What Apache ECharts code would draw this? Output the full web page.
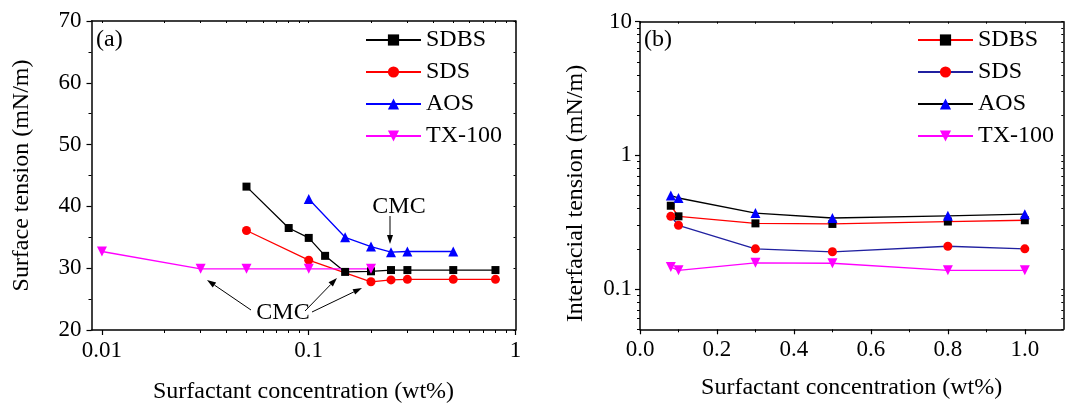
<!DOCTYPE html>
<html><head><meta charset="utf-8">
<script src="https://cdn.jsdelivr.net/npm/echarts@6/dist/echarts.min.js"></script>
<style>html,body{margin:0;padding:0;background:#fff}#c{width:1065px;height:405px}</style>
</head><body><div id="c"></div>
<script>
// ---- data ----
const seriesNames = ['SDBS', 'SDS', 'AOS', 'TX-100'];
// (a) surface tension (mN/m) vs surfactant concentration (wt%)
const sdbsA_x = [0.05, 0.08, 0.1, 0.12, 0.15, 0.2, 0.25, 0.3, 0.5, 0.8];
const sdbsA_y = [43.2, 36.5, 34.9, 32.0, 29.4, 29.5, 29.7, 29.7, 29.7, 29.7];
const sdsA_x = [0.05, 0.1, 0.2, 0.25, 0.3, 0.5, 0.8];
const sdsA_y = [36.1, 31.3, 27.8, 28.1, 28.2, 28.2, 28.2];
const aosA_x = [0.1, 0.15, 0.2, 0.25, 0.3, 0.5];
const aosA_y = [41.2, 35.0, 33.5, 32.6, 32.7, 32.7];
const txA_x = [0.01, 0.03, 0.05, 0.1, 0.2];
const txA_y = [32.7, 29.9, 29.9, 29.9, 29.9];
// (b) interfacial tension (mN/m) vs surfactant concentration (wt%)
const concB = [0.08, 0.1, 0.3, 0.5, 0.8, 1.0];
const sdbsB = [0.42, 0.35, 0.31, 0.307, 0.32, 0.327];
const sdsB = [0.35, 0.30, 0.20, 0.19, 0.209, 0.20];
const aosB = [0.50, 0.48, 0.37, 0.34, 0.353, 0.363];
const txB = [0.146, 0.138, 0.157, 0.156, 0.138, 0.138];
// tick labels
const xTicksA = [0.01, 0.1, 1];
const yTicksA = [20, 30, 40, 50, 60, 70];
const xTicksB = [0, 0.2, 0.4, 0.6, 0.8, 1.0];
const yTicksB = [0.1, 1, 10];

// ---- helpers ----
const FONT = 'Liberation Serif';
const zip = (xs, ys) => xs.map((x, i) => [x, ys[i]]);
const logMinor = (decades) => {
  const out = [];
  decades.forEach(d => { for (let k = 2; k <= 9; k++) out.push(+(d * k).toPrecision(6)); });
  return out;
};
const xMinorA = logMinor([0.01, 0.1]);
const yMinorA = [25, 35, 45, 55, 65];
const xMinorB = [0.1, 0.3, 0.5, 0.7, 0.9];
const yMinorB = logMinor([0.01, 0.1, 1]).filter(v => v >= 0.05);

const lineStyleAx = {color: '#000', width: 1.5};
const nameStyle = {fontFamily: FONT, fontSize: 24, color: '#000'};

function axMain(o) {
  return Object.assign({
    axisLine: {show: true, onZero: false, lineStyle: lineStyleAx},
    axisTick: {show: true, inside: false, length: 5, customValues: o.major, lineStyle: {color: '#000', width: 1.2}},
    axisLabel: {show: true, customValues: o.major, margin: o.margin, formatter: o.fmt, fontFamily: FONT, fontSize: 23, color: '#000'},
    splitLine: {show: false},
    nameLocation: 'middle',
    nameTextStyle: nameStyle
  }, o.base);
}
function axMinor(o) {
  return Object.assign({
    axisLine: {show: false, onZero: false},
    axisTick: {show: true, inside: false, length: 3, customValues: o.minor, lineStyle: {color: '#000', width: 1}},
    axisLabel: {show: false},
    splitLine: {show: false}
  }, o.base);
}
function axMirror(o) {
  return Object.assign({
    axisLine: {show: true, onZero: false, lineStyle: lineStyleAx},
    axisTick: {show: true, inside: true, length: 2, customValues: o.ticks, lineStyle: {color: '#000', width: 1}},
    axisLabel: {show: false},
    splitLine: {show: false}
  }, o.base);
}

const xA = {gridIndex: 0, type: 'log', logBase: 10, min: 0.0089, max: 1};
const yA = {gridIndex: 0, type: 'value', min: 20, max: 70};
const xB = {gridIndex: 1, type: 'value', min: 0, max: 1.1};
const yB = {gridIndex: 1, type: 'log', logBase: 10, min: 0.05, max: 10};

const xAxes = [
  axMain({base: Object.assign({}, xA, {position: 'bottom', name: 'Surfactant concentration (wt%)', nameGap: 50}), major: xTicksA, margin: 9, fmt: v => String(v)}),
  axMinor({base: Object.assign({}, xA, {position: 'bottom'}), minor: xMinorA}),
  axMirror({base: Object.assign({}, xA, {position: 'top'}), ticks: xTicksA.concat(xMinorA)}),
  axMain({base: Object.assign({}, xB, {position: 'bottom', name: 'Surfactant concentration (wt%)', nameGap: 46}), major: xTicksB, margin: 9, fmt: v => v.toFixed(1)}),
  axMinor({base: Object.assign({}, xB, {position: 'bottom'}), minor: xMinorB}),
  axMirror({base: Object.assign({}, xB, {position: 'top'}), ticks: xTicksB.concat(xMinorB)})
];
const yAxes = [
  axMain({base: Object.assign({}, yA, {position: 'left', name: 'Surface tension (mN/m)', nameGap: 58}), major: yTicksA, margin: 10, fmt: v => String(v)}),
  axMinor({base: Object.assign({}, yA, {position: 'left'}), minor: yMinorA}),
  axMirror({base: Object.assign({}, yA, {position: 'right'}), ticks: yTicksA.concat(yMinorA)}),
  axMain({base: Object.assign({}, yB, {position: 'left', name: 'Interfacial tension (mN/m)', nameGap: 52,
          nameTextStyle: Object.assign({}, nameStyle, {padding: [0, 36, 0, 0]})}), major: yTicksB, margin: 8, fmt: v => String(v)}),
  axMinor({base: Object.assign({}, yB, {position: 'left'}), minor: yMinorB}),
  axMirror({base: Object.assign({}, yB, {position: 'right'}), ticks: yTicksB.concat(yMinorB)})
];

function ser(name, xi, yi, data, symbol, size, markerColor, lineColor, rotate) {
  return {
    name: name, type: 'line', xAxisIndex: xi, yAxisIndex: yi, data: data,
    symbol: symbol, symbolSize: size, symbolRotate: rotate || 0, showSymbol: true,
    itemStyle: {color: markerColor},
    lineStyle: {color: lineColor, width: 1.3},
    emphasis: {disabled: true}, animation: false, z: 3
  };
}

const series = [
  ser('SDBS', 0, 0, zip(sdbsA_x, sdbsA_y), 'rect', 8, '#000', '#000'),
  ser('SDS', 0, 0, zip(sdsA_x, sdsA_y), 'circle', 9, '#ff0000', '#ff0000'),
  ser('AOS', 0, 0, zip(aosA_x, aosA_y), 'triangle', 10, '#0000ff', '#0000ff'),
  ser('TX-100', 0, 0, zip(txA_x, txA_y), 'triangle', 10, '#ff00ff', '#ff00ff', 180),
  ser('SDBS (b)', 3, 3, zip(concB, sdbsB), 'rect', 8, '#000', '#ff0000'),
  ser('SDS (b)', 3, 3, zip(concB, sdsB), 'circle', 9, '#ff0000', '#2020a0'),
  ser('AOS (b)', 3, 3, zip(concB, aosB), 'triangle', 10, '#0000ff', '#000'),
  ser('TX-100 (b)', 3, 3, zip(concB, txB), 'triangle', 10, '#ff00ff', '#ff00ff', 180)
];

function legend(left, names, fmt) {
  return {
    orient: 'vertical', left: left, top: 28, padding: 0, itemWidth: 55, itemHeight: 14, itemGap: 8,
    data: names, formatter: fmt, selectedMode: false,
    textStyle: {fontFamily: FONT, fontSize: 24, color: '#000', lineHeight: 22}
  };
}

function arrow(x1, y1, x2, y2) {
  const ang = Math.atan2(y2 - y1, x2 - x1);
  const L = 9, W = 3;
  const bx = x2 - L * Math.cos(ang), by = y2 - L * Math.sin(ang);
  const px = -Math.sin(ang) * W, py = Math.cos(ang) * W;
  return [
    {type: 'line', shape: {x1: x1, y1: y1, x2: bx, y2: by}, style: {stroke: '#000', lineWidth: 1}, z: 10},
    {type: 'polygon', shape: {points: [[x2, y2], [bx + px, by + py], [bx - px, by - py]]}, style: {fill: '#000'}, z: 10}
  ];
}
const txt = (x, y, t, align) => ({type: 'text', x: x, y: y, z: 10,
  style: {text: t, fontFamily: FONT, fontSize: 24, fill: '#000', align: align || 'center', verticalAlign: 'middle'}});

const graphics = [].concat(
  [txt(96, 40, '(a)', 'left'), txt(644, 40, '(b)', 'left'),
   txt(283, 313, 'CMC'), txt(399, 207, 'CMC')],
  arrow(251, 310, 207, 280),
  arrow(305, 311, 337, 278),
  arrow(312, 312, 362, 288),
  arrow(390, 216, 390, 244)
);

const chart = echarts.init(document.getElementById('c'), null, {renderer: 'canvas'});
chart.setOption({
  backgroundColor: '#fff',
  animation: false,
  grid: [
    {left: 91.5, top: 21, width: 424, height: 309, containLabel: false, outerBoundsMode: 'none'},
    {left: 640, top: 21.7, width: 423.3, height: 307.6, containLabel: false, outerBoundsMode: 'none'}
  ],
  legend: [
    legend(365, seriesNames, n => n),
    legend(917, seriesNames.map(n => n + ' (b)'), n => n.replace(' (b)', ''))
  ],
  xAxis: xAxes,
  yAxis: yAxes,
  series: series,
  graphic: graphics
});
</script>
</body></html>
